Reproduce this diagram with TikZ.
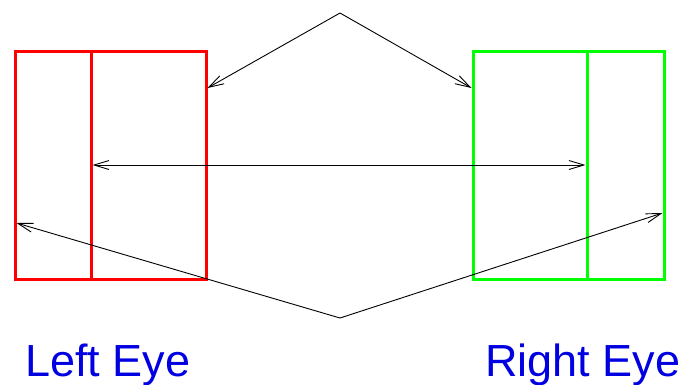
\documentclass[tikz,border=0pt]{standalone}
\usepackage{fontspec}
\setmainfont{Liberation Sans}
\usetikzlibrary{arrows.meta}
\definecolor{eyeblue}{RGB}{0,0,225}
\definecolor{eyered}{RGB}{255,0,0}
\definecolor{eyegreen}{RGB}{0,255,0}
\tikzset{
  eyebox/.style={draw=#1, line width=3pt, inner sep=0pt,
    minimum width=191pt, minimum height=228pt},
  divider/.style={draw=#1, line width=3pt},
  ray/.style={draw=black, line width=0.9pt,
    -{Straight Barb[length=15pt,width=9pt,line width=0.9pt]}},
  bothray/.style={draw=black, line width=0.9pt,
    {Straight Barb[length=15pt,width=9pt,line width=0.9pt]}-{Straight Barb[length=15pt,width=9pt,line width=0.9pt]}},
  eyelabel/.style={text=eyeblue, font=\fontsize{45}{54}\selectfont, inner sep=0pt, anchor=base west}
}
\begin{document}
\begin{tikzpicture}[x=1pt, y=-1pt]
  \useasboundingbox (0,0) rectangle (682,384);

  % the two eye frames
  \node[eyebox=eyered] (left) at (110.5,165) {};
  \node[eyebox=eyegreen] (right) at (568.5,165) {};
  \coordinate (lsplitT) at (91,51);
  \coordinate (lsplitB) at (91,279);
  \coordinate (rsplitT) at (587,51);
  \coordinate (rsplitB) at (587,279);
  \draw[divider=eyered] (lsplitT) -- (lsplitB);
  \draw[divider=eyegreen] (rsplitT) -- (rsplitB);

  % ray end points
  \coordinate (top) at (340,13);
  \coordinate (bottom) at (340,318);
  \coordinate (ltop) at (207.5,88);
  \coordinate (rtop) at (471.5,88);
  \coordinate (lmid) at (92.5,165);
  \coordinate (rmid) at (585.5,165);
  \coordinate (llow) at (16.5,223);
  \coordinate (rlow) at (662.5,213);

  \draw[ray] (top) -- (ltop);
  \draw[ray] (top) -- (rtop);
  \draw[bothray] (lmid) -- (rmid);
  \draw[ray] (bottom) -- (llow);
  \draw[ray] (bottom) -- (rlow);

  % captions
  \node[eyelabel] (lefttext) at (25,376) {Left Eye};
  \node[eyelabel] (righttext) at (485,376) {Right Eye};
\end{tikzpicture}
\end{document}
